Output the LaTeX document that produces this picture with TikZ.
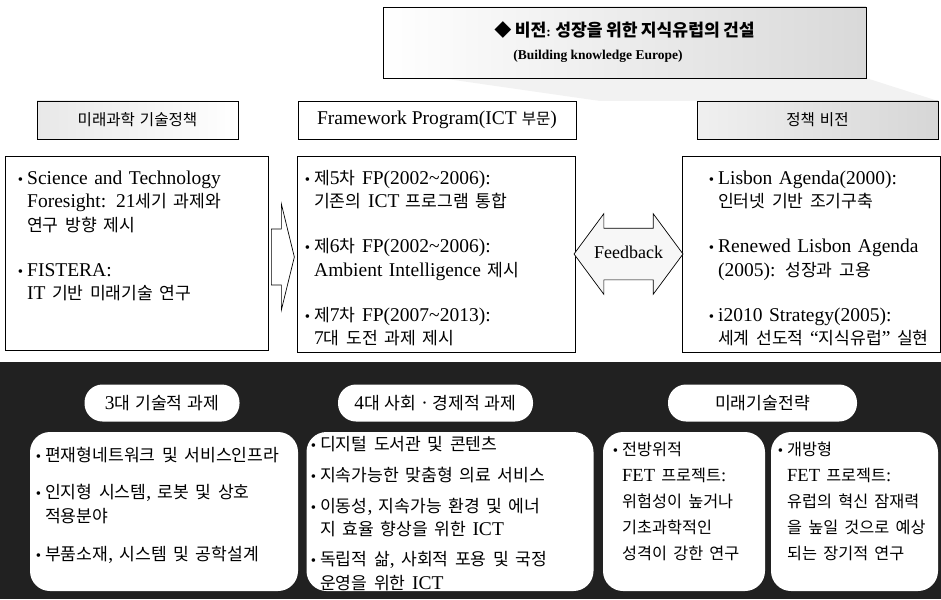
\documentclass[tikz,border=0pt]{standalone}
\usepackage{fontspec}
\setmainfont{Liberation Serif}
\newfontfamily\krfont[Scale=0.88]{Noto Sans CJK KR}
\newfontfamily\krsmall[Scale=0.8]{Noto Sans CJK KR}
\newfontfamily\krtitle[Scale=1.27]{Noto Sans CJK KR}
\usetikzlibrary{shapes.arrows,calc}

% Hangul syllables (and the diamond) are set in the Korean font
\newXeTeXintercharclass\hangulclass
\count255="AC00
\loop\ifnum\count255<"D7A4
  \XeTeXcharclass\count255=\hangulclass
  \advance\count255 by 1
\repeat
\XeTeXcharclass`◆=\hangulclass
\XeTeXinterchartoks 0 \hangulclass={\krfont}
\XeTeXinterchartoks 4095 \hangulclass={\krfont}
\XeTeXinterchartoks 2 \hangulclass={\krfont}
\XeTeXinterchartoks 3 \hangulclass={\krfont}
\XeTeXinterchartoks \hangulclass 0={\rmfamily}
\XeTeXinterchartoks \hangulclass 4095={\rmfamily}
\XeTeXinterchartoks \hangulclass 2={\rmfamily}
\XeTeXinterchartoks \hangulclass 3={\rmfamily}
\XeTeXinterchartoks 4095 0={\rmfamily}
\XeTeXinterchartokenstate=1

\newcommand{\dotitem}{\leavevmode\llap{{\fontsize{15}{15}\selectfont •}\hspace{4pt}}}

\begin{document}
\begin{tikzpicture}[x=1pt,y=-1pt,
    box/.style={draw, line width=0.7pt, inner sep=0pt},
    headbox/.style={box, minimum height=38pt,
      font={\fontsize{19.5}{22}\selectfont\let\krfont\krsmall}},
    txt/.style={anchor=base west, align=left, text width=260pt, inner sep=0pt,
      font=\fontsize{19.5}{23.5}\selectfont},
    pill/.style={fill=white, rounded corners=18pt, minimum height=37pt, inner sep=0pt,
      font=\fontsize{19.5}{22}\selectfont},
    card/.style={fill=white, rounded corners=20pt, minimum height=159pt, inner sep=0pt}]
\useasboundingbox (0,0) rectangle (941,599);

% faint texture between the vision and the right header
\fill[gray!10] (440,78) -- (866,78) -- (938,101) -- (600,101) -- cycle;

% top: vision
\node[box, left color=white, right color=gray!30, minimum width=483pt, minimum height=71pt,
  align=left, font={\bfseries\fontsize{13.5}{23}\selectfont\let\krfont\krtitle}] (vision)
  at (624.5,42.5) {◆ 비전: 성장을 위한 지식유럽의 건설\\ \hspace{19pt}(Building knowledge Europe)};

% headers
\node[headbox, minimum width=201pt, left color=gray!18, right color=white] (policyhead)
  at (137.5,120) {미래과학 기술정책};
\node[headbox, minimum width=278pt, fill=white] (fphead)
  at (437,120) {Framework Program(ICT 부문)};
\node[headbox, minimum width=241pt, left color=gray!12, right color=gray!32] (visionhead)
  at (817.5,120) {정책 비전};

% content boxes
\node[box, minimum width=263pt, minimum height=194pt] (policybox) at (136.5,253) {};
\node[box, minimum width=278pt, minimum height=196pt] (fpbox) at (436,254) {};
\node[box, minimum width=258pt, minimum height=196pt] (visionbox) at (811,254) {};

\node[txt] (policytxt) at (27,184) {\dotitem Science and Technology\\
  Foresight: 21세기 과제와\\ 연구 방향 제시\\[21.5pt]
  \dotitem FISTERA:\\ IT 기반 미래기술 연구};
\node[txt] (fptxt) at (314,184) {\dotitem 제5차 FP(2002\textasciitilde2006):\\
  기존의 ICT 프로그램 통합\\[21.5pt]
  \dotitem 제6차 FP(2002\textasciitilde2006):\\ Ambient Intelligence 제시\\[21.5pt]
  \dotitem 제7차 FP(2007\textasciitilde2013):\\ 7대 도전 과제 제시};
\node[txt] (visiontxt) at (718,184) {\dotitem Lisbon Agenda(2000):\\
  인터넷 기반 조기구축\\[21.5pt]
  \dotitem Renewed Lisbon Agenda\\ (2005): 성장과 고용\\[21.5pt]
  \dotitem i2010 Strategy(2005):\\ 세계 선도적 “지식유럽” 실현};

% arrows between the boxes
\coordinate (push) at ($(policybox.east)+(3,4)$);
\draw[line width=0.7pt, fill=white] (push) ++(0,-28) -- ++(10,0) -- ++(0,-25)
  -- ++(13,53) -- ++(-13,53) -- ++(0,-25) -- ++(-10,0) -- cycle;
\node[double arrow, draw, line width=0.7pt, fill=gray!6, font=\fontsize{18}{20}\selectfont,
  text height=12pt, text depth=3pt, inner xsep=0pt, inner ysep=18pt, minimum height=109pt,
  double arrow head extend=14.5pt, double arrow tip angle=107] (feedback)
  at ($(fpbox.east)!0.5!(visionbox.west)$) {Feedback};

% bottom band
\node[fill=black!87, minimum width=941pt, minimum height=237pt, inner sep=0pt] (band)
  at (470.5,480.5) {};

\node[pill, minimum width=155pt] (techhead) at (162,403) {3대 기술적 과제};
\node[pill, minimum width=195pt] (sochead) at (435.5,403) {4대 사회 · 경제적 과제};
\node[pill, minimum width=189pt] (futhead) at (762.5,403) {미래기술전략};

\node[card, minimum width=268pt] (techbox) at (164,511.5) {};
\node[card, minimum width=287pt] (socbox) at (450,511.5) {};
\node[card, minimum width=162pt] (frontbox) at (684,511.5) {};
\node[card, minimum width=167pt] (openbox) at (854.5,511.5) {};

\node[txt] (techtxt) at (45,461) {\dotitem 편재형네트워크 및 서비스인프라\\[14pt]
  \dotitem 인지형 시스템, 로봇 및 상호\\ 적용분야\\[14.5pt]
  \dotitem 부품소재, 시스템 및 공학설계};
\node[txt] (soctxt) at (320,450) {\dotitem 디지털 도서관 및 콘텐츠\\[7.5pt]
  \dotitem 지속가능한 맞춤형 의료 서비스\\[7.5pt]
  \dotitem 이동성, 지속가능 환경 및 에너\\ 지 효율 향상을 위한 ICT\\[6.5pt]
  \dotitem 독립적 삶, 사회적 포용 및 국정\\ 운영을 위한 ICT};
\node[txt, font=\fontsize{18.5}{26}\selectfont] (fronttxt) at (622,455) {\dotitem 전방위적\\
  FET 프로젝트:\\ 위험성이 높거나\\ 기초과학적인\\ 성격이 강한 연구};
\node[txt, font=\fontsize{18.5}{26}\selectfont] (opentxt) at (787,455) {\dotitem 개방형\\
  FET 프로젝트:\\ 유럽의 혁신 잠재력\\ 을 높일 것으로 예상\\ 되는 장기적 연구};
\end{tikzpicture}
\end{document}
